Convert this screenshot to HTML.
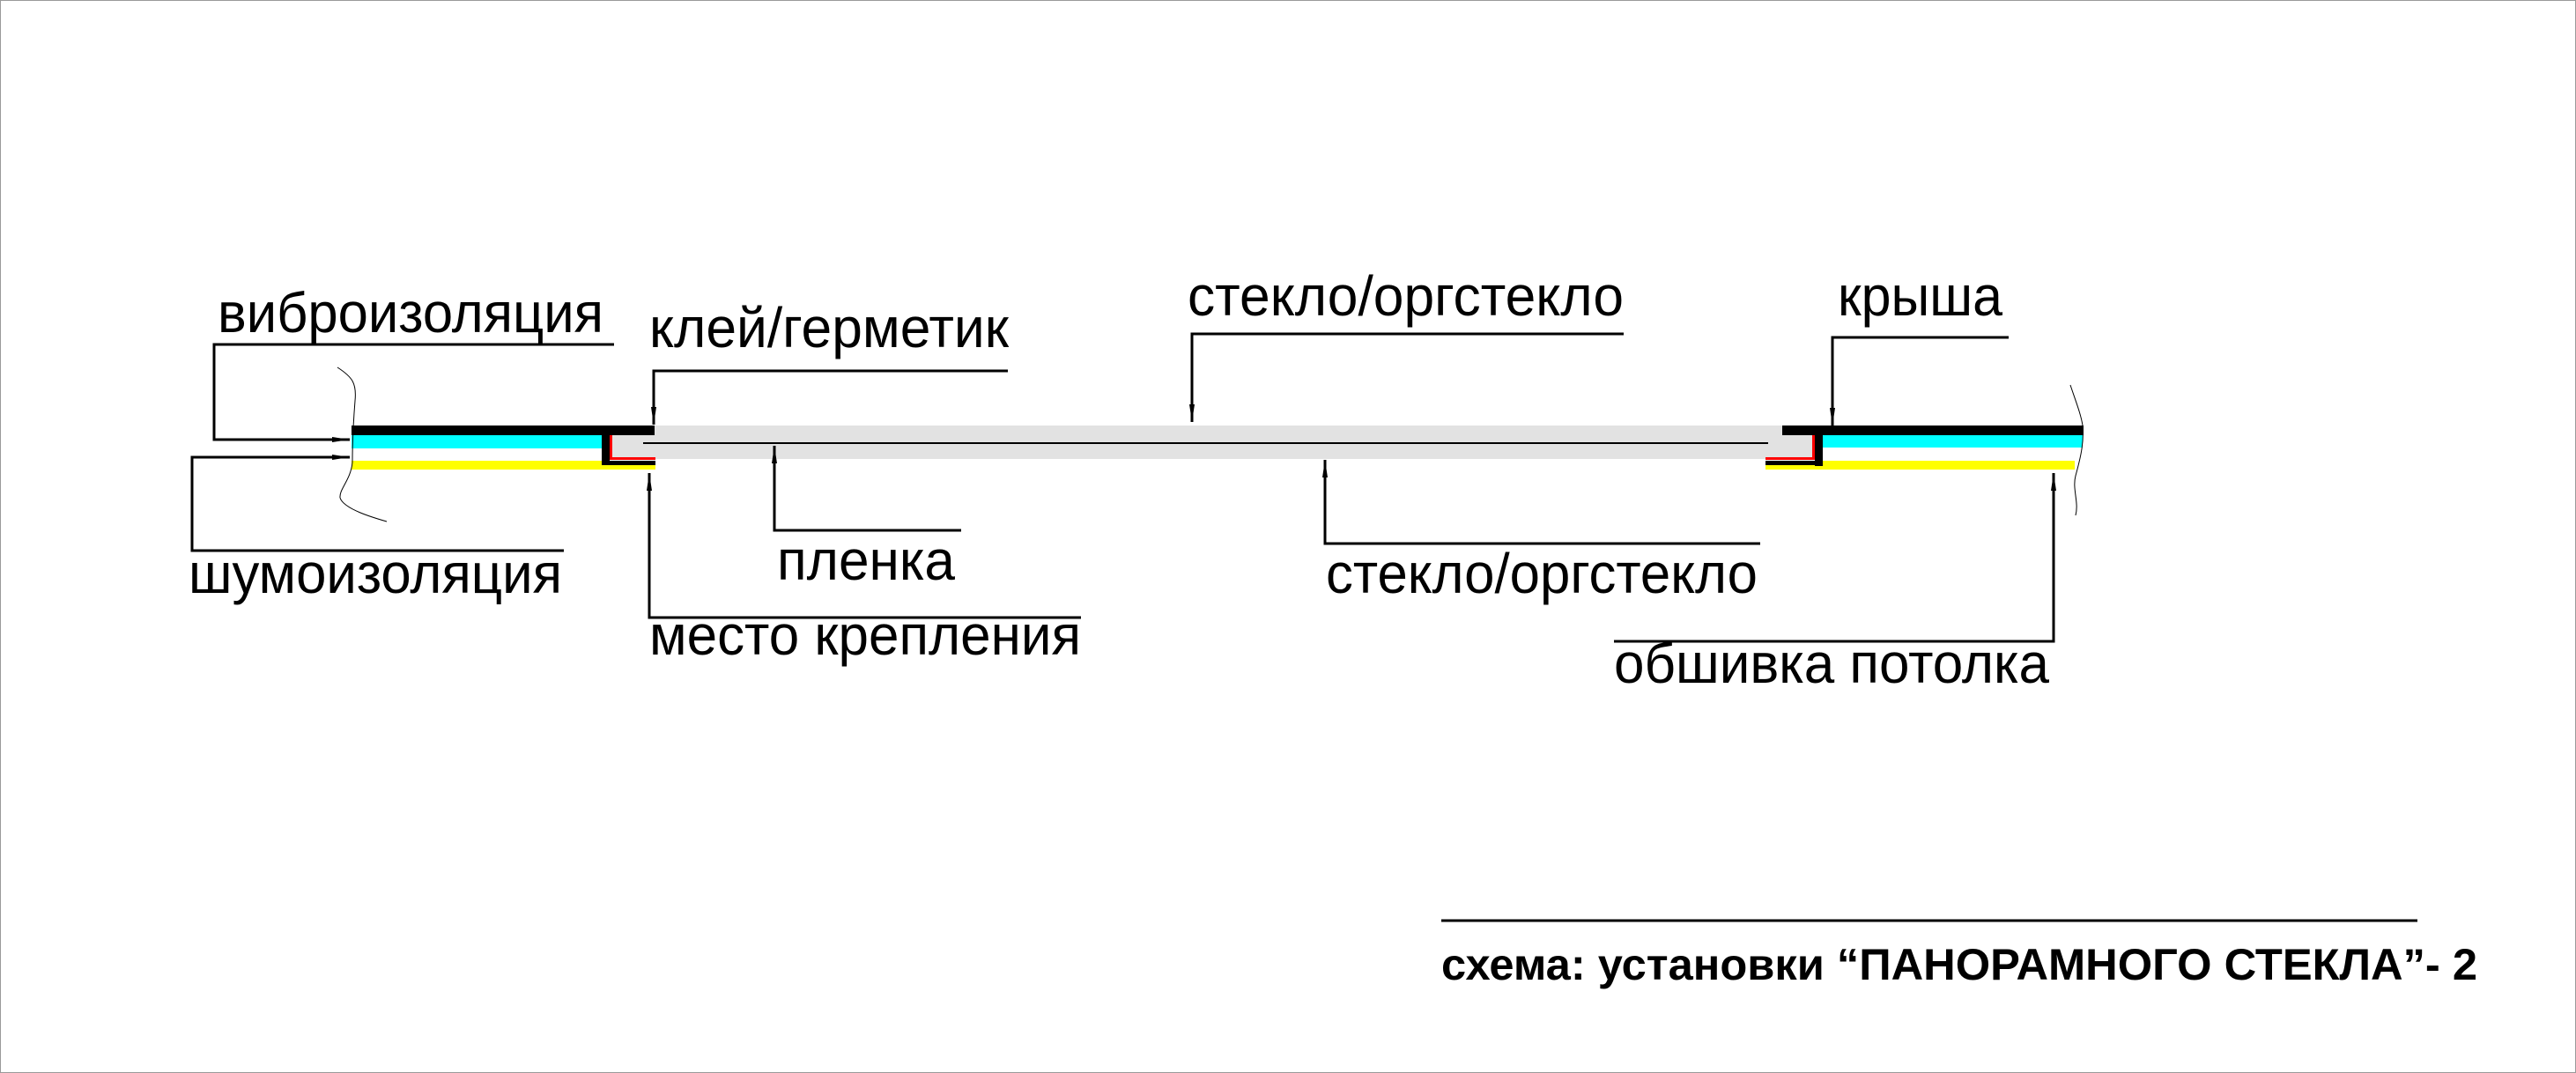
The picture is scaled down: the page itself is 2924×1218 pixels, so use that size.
<!DOCTYPE html>
<html><head><meta charset="utf-8"><style>html,body{margin:0;padding:0;background:#fff}svg{display:block}text{font-family:"Liberation Sans",Arial,sans-serif;fill:#000}</style></head>
<body>
<svg width="2924" height="1218" viewBox="0 0 2924 1218" xmlns="http://www.w3.org/2000/svg">
<defs>
<marker id="a" markerWidth="20" markerHeight="8" refX="20" refY="4" orient="auto" markerUnits="userSpaceOnUse"><path d="M0,1 L20,4 L0,7 Z" fill="#000"/></marker>
</defs>
<rect x="0.5" y="0.5" width="2923" height="1217" fill="#fff" stroke="#9a9a9a" stroke-width="1"/>

<rect x="692" y="483" width="1376" height="38" fill="#e2e2e2"/>
<line x1="730" y1="503" x2="2007" y2="503" stroke="#000" stroke-width="2"/>

<rect x="399" y="483" width="344" height="11" fill="#000"/>
<rect x="399" y="494" width="284" height="15" fill="#00ffff"/>
<rect x="399" y="523" width="345" height="10" fill="#ffff00"/>
<rect x="683" y="494" width="9" height="34" fill="#000"/>
<rect x="683" y="523" width="61" height="5" fill="#000"/>
<rect x="692" y="494" width="3" height="28" fill="#ff0000"/>
<rect x="692" y="519" width="52" height="3" fill="#ff0000"/>

<rect x="2023" y="483" width="342" height="11" fill="#000"/>
<rect x="2069" y="494" width="295" height="14" fill="#00ffff"/>
<rect x="2004" y="523" width="351" height="10" fill="#ffff00"/>
<rect x="2060" y="494" width="9" height="35" fill="#000"/>
<rect x="2004" y="523" width="65" height="5" fill="#000"/>
<rect x="2057" y="494" width="3" height="28" fill="#ff0000"/>
<rect x="2004" y="519" width="56" height="3" fill="#ff0000"/>

<path d="M383,417 C400,428 405,435 403,455 C401,480 400,500 400,525 C398,545 385,555 386,565 C390,578 425,588 439,592" fill="none" stroke="#000" stroke-width="1"/>
<path d="M2350,437 C2356,455 2362,470 2364,483 C2366,505 2360,525 2356,540 C2352,555 2360,570 2356,585" fill="none" stroke="#000" stroke-width="1"/>

<g fill="none" stroke="#000" stroke-width="3">
<polyline points="697,391 243,391 243,499 397,499" marker-end="url(#a)"/>
<polyline points="640,625 218,625 218,519 397,519" marker-end="url(#a)"/>
<polyline points="1144,421 742,421 742,482" marker-end="url(#a)"/>
<polyline points="1091,602 879,602 879,506" marker-end="url(#a)"/>
<polyline points="1227,701 737,701 737,537" marker-end="url(#a)"/>
<polyline points="1843,379 1353,379 1353,479" marker-end="url(#a)"/>
<polyline points="1998,617 1504,617 1504,522" marker-end="url(#a)"/>
<polyline points="2280,383 2080,383 2080,483" marker-end="url(#a)"/>
<polyline points="1832,728 2331,728 2331,537" marker-end="url(#a)"/>
<line x1="1636" y1="1045" x2="2744" y2="1045"/>
</g>

<g font-size="64">
<text x="247" y="377" textLength="438" lengthAdjust="spacingAndGlyphs">виброизоляция</text>
<text x="214" y="673" textLength="424" lengthAdjust="spacingAndGlyphs">шумоизоляция</text>
<text x="737" y="394" textLength="408" lengthAdjust="spacingAndGlyphs">клей/герметик</text>
<text x="882" y="658" textLength="202" lengthAdjust="spacingAndGlyphs">пленка</text>
<text x="737" y="743" textLength="490" lengthAdjust="spacingAndGlyphs">место крепления</text>
<text x="1348" y="358" textLength="495" lengthAdjust="spacingAndGlyphs">стекло/оргстекло</text>
<text x="1505" y="673" textLength="490" lengthAdjust="spacingAndGlyphs">стекло/оргстекло</text>
<text x="2086" y="358" textLength="187" lengthAdjust="spacingAndGlyphs">крыша</text>
<text x="1832" y="775" textLength="494" lengthAdjust="spacingAndGlyphs">обшивка потолка</text>
</g>
<text x="1636" y="1112" font-size="50" font-weight="bold" textLength="1176" lengthAdjust="spacingAndGlyphs">схема: установки “ПАНОРАМНОГО СТЕКЛА”- 2</text>
</svg>
</body></html>
